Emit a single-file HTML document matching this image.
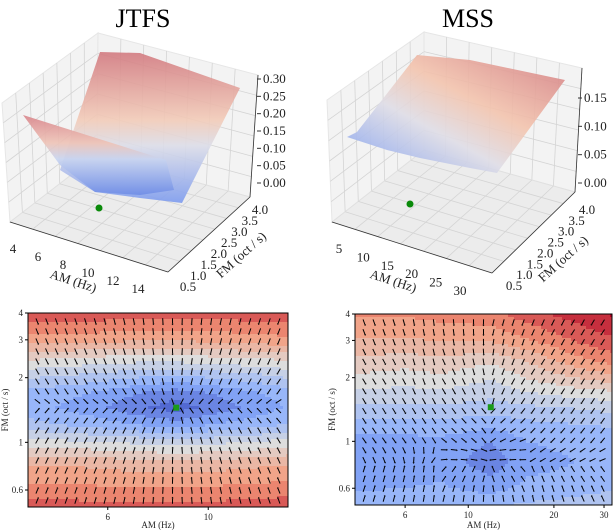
<!DOCTYPE html>
<html><head><meta charset="utf-8">
<style>
html,body{margin:0;padding:0;background:#fff;}
svg{display:block;font-family:"Liberation Serif",serif;}
.t{font-size:13px;fill:#222;}
.s{font-size:9px;fill:#222;font-family:"Liberation Serif",serif;}
</style></head>
<body>
<svg id="fig" width="614" height="532" viewBox="0 0 614 532" xmlns="http://www.w3.org/2000/svg">
<defs>
<linearGradient id="gBack1" x1="0" y1="0" x2="0" y2="1">
<stop offset="0" stop-color="#d27a80"/><stop offset="0.45" stop-color="#f2cbb8"/><stop offset="0.62" stop-color="#dcdde8"/><stop offset="1" stop-color="#7d9bee"/></linearGradient>
<linearGradient id="gFront1" x1="0" y1="0" x2="0" y2="1">
<stop offset="0" stop-color="#d8848a"/><stop offset="0.35" stop-color="#eec3b6"/><stop offset="0.55" stop-color="#c8d4f0"/><stop offset="1" stop-color="#6f8de6"/></linearGradient>
<linearGradient id="gMss" x1="1" y1="0" x2="0" y2="1">
<stop offset="0" stop-color="#d27a80"/><stop offset="0.4" stop-color="#f3c4ae"/><stop offset="0.62" stop-color="#dfdde6"/><stop offset="1" stop-color="#7c9cf0"/></linearGradient>
<clipPath id="c1"><rect x="28" y="313" width="260" height="194"/></clipPath>
<clipPath id="c2"><rect x="355" y="314" width="257" height="191"/></clipPath>
</defs>
<g id="top3d"></g>
<g id="bottom"></g>
</svg>
<script>
// ---- heatmap data (normalized distance, 0=min,1=max) ----
const fmRows = [4, 3, 2.4, 2, 1.7, 1.45, 1.2, 1, 0.8, 0.6, 0.5];
const jtfsAm = [4, 5.5, 7, 8.5, 10.5, 13, 15];
const jtfsVals = [
 [0.88,0.87,0.86,0.86,0.86,0.87,0.88],
 [0.72,0.71,0.69,0.69,0.7,0.72,0.73],
 [0.53,0.5,0.48,0.48,0.5,0.52,0.53],
 [0.4,0.36,0.32,0.3,0.33,0.36,0.4],
 [0.3,0.25,0.18,0.14,0.19,0.25,0.28],
 [0.28,0.21,0.12,0.07,0.14,0.21,0.26],
 [0.35,0.3,0.25,0.22,0.26,0.3,0.33],
 [0.5,0.47,0.45,0.43,0.45,0.47,0.5],
 [0.67,0.66,0.64,0.63,0.64,0.66,0.67],
 [0.78,0.77,0.76,0.76,0.77,0.78,0.79],
 [0.86,0.85,0.84,0.84,0.85,0.86,0.87]];
const mssAm = [4, 6, 8, 12, 16, 24, 32];
const mssVals = [
 [0.76,0.76,0.78,0.8,0.86,0.93,0.97],
 [0.67,0.67,0.68,0.69,0.74,0.83,0.88],
 [0.59,0.57,0.59,0.55,0.61,0.72,0.78],
 [0.52,0.5,0.52,0.47,0.54,0.61,0.65],
 [0.45,0.44,0.45,0.42,0.46,0.5,0.52],
 [0.38,0.38,0.38,0.36,0.38,0.4,0.42],
 [0.3,0.3,0.3,0.27,0.3,0.32,0.33],
 [0.22,0.22,0.23,0.18,0.25,0.27,0.28],
 [0.18,0.2,0.22,0.13,0.22,0.25,0.27],
 [0.24,0.25,0.26,0.22,0.27,0.29,0.31],
 [0.29,0.3,0.31,0.31,0.33,0.35,0.38]];
const jtfsXTicks = [6, 10];
const mssXTicks = [6, 10, 20, 30];
const yTicks = [4, 3, 2, 1, 0.6];
const jtfsTarget = [8.5, 1.45];
const mssTarget = [12, 1.45];
// ---- 3D tick labels ----
const jtfsZTicks = ["0.30","0.25","0.20","0.15","0.10","0.05","0.00"];
const mssZTicks = ["0.15","0.10","0.05","0.00"];
const fmTicks3d = ["4.0","3.5","3.0","2.5","2.0","1.5","1.0","0.5"];
const jtfsAmTicks = ["4","6","8","10","12","14"];
const mssAmTicks = ["5","10","15","20","25","30"];

const NS="http://www.w3.org/2000/svg";
function mk(tag,attrs,parent){const e=document.createElementNS(NS,tag);for(const k in attrs)e.setAttribute(k,attrs[k]);parent.appendChild(e);return e;}
function cw(v){
  const s=[[0,59,76,192],[0.25,141,176,254],[0.5,221,221,221],[0.75,244,154,123],[1,180,4,38]];
  v=Math.max(0,Math.min(1,v));
  for(let i=0;i<4;i++){if(v<=s[i+1][0]){const t=(v-s[i][0])/(s[i+1][0]-s[i][0]);
    return `rgb(${Math.round(s[i][1]+t*(s[i+1][1]-s[i][1]))},${Math.round(s[i][2]+t*(s[i+1][2]-s[i][2]))},${Math.round(s[i][3]+t*(s[i+1][3]-s[i][3]))})`;}}
}
function interp(arr,vals,v){
  let i=0;while(i<arr.length-2&&v>arr[i+1])i++;
  const t=Math.max(0,Math.min(1,(v-arr[i])/(arr[i+1]-arr[i])));return [i,t];
}
function field(amArr,vals,am,fm){
  const la=amArr.map(Math.log2), lf=fmRows.map(f=>-Math.log2(f));
  const [i,ti]=interp(la,null,Math.log2(am));
  const [j,tj]=interp(lf,null,-Math.log2(fm));
  const a=vals[j][i],b=vals[j][i+1],c=vals[j+1][i],d=vals[j+1][i+1];
  return (a*(1-ti)+b*ti)*(1-tj)+(c*(1-ti)+d*ti)*tj;
}
function heat(cfg){
  const g=mk('g',{},document.getElementById('bottom'));
  const X=am=>cfg.x0+(Math.log2(am)-Math.log2(cfg.amMin))/(Math.log2(cfg.amMax)-Math.log2(cfg.amMin))*cfg.w;
  const Y=fm=>cfg.y0+(2-Math.log2(fm))/3*cfg.h;
  const Xi=px=>Math.pow(2,Math.log2(cfg.amMin)+(px-cfg.x0)/cfg.w*(Math.log2(cfg.amMax)-Math.log2(cfg.amMin)));
  const Yi=py=>Math.pow(2,2-(py-cfg.y0)/cfg.h*3);
  const cells=mk('g',{'clip-path':cfg.clip},g);
  
  
  const st=3;
  for(let py=cfg.y0;py<cfg.y0+cfg.h;py+=st){
    for(let px=cfg.x0;px<cfg.x0+cfg.w;px+=st){
      let v=field(cfg.am,cfg.vals,Xi(px+st/2),Yi(py+st/2));
      v=Math.round(v*14)/14;
      mk('rect',{x:px,y:py,width:st+0.5,height:st+0.5,fill:cw(v)},cells);
    }
  }
  const q=mk('g',{stroke:'#000','stroke-width':1,fill:'#000'},g);
  
  
  const tx0=X(cfg.target[0]), ty0=Y(cfg.target[1]);
  for(let r=0;r<cfg.rows;r++){
    const py=cfg.y0+8+r*(cfg.h-14)/(cfg.rows-1);
    for(let c=0;c<cfg.cols;c++){
      const px=cfg.x0+9+c*(cfg.w-18)/(cfg.cols-1);
      const e=2;
      let gx=(field(cfg.am,cfg.vals,Xi(px+e),Yi(py))-field(cfg.am,cfg.vals,Xi(px-e),Yi(py)))/(2*e);
      let gy=(field(cfg.am,cfg.vals,Xi(px),Yi(py+e))-field(cfg.am,cfg.vals,Xi(px),Yi(py-e)))/(2*e);
      let m=Math.hypot(gx,gy)||1; let ux=-gx/m, uy=-gy/m;
      // blend toward target direction (arrows converge on target)
      const dx=tx0-px, dy=ty0-py, dm=Math.hypot(dx,dy)||1;
      ux=ux+0.6*dx/dm; uy=uy+0.6*dy/dm; m=Math.hypot(ux,uy)||1; ux/=m; uy/=m;
      const L=2.8;
      mk('line',{x1:px-ux*L,y1:py-uy*L,x2:px+ux*L,y2:py+uy*L},q);
      const hx=px+ux*L, hy=py+uy*L;
      mk('polygon',{points:`${hx+ux*1.4},${hy+uy*1.4} ${hx-uy*1.1},${hy+ux*1.1} ${hx+uy*1.1},${hy-ux*1.1}`,stroke:'none'},q);
    }
  }
  const d=mk('rect',{x:tx0-3,y:ty0-3,width:6,height:6,fill:'#1a9a1a'},g);
  
  
  mk('rect',{x:cfg.x0,y:cfg.y0,width:cfg.w,height:cfg.h,fill:'none',stroke:'#000','stroke-width':1},g);
  cfg.xt.forEach(t=>{mk('line',{x1:X(t),x2:X(t),y1:cfg.y0+cfg.h,y2:cfg.y0+cfg.h+3,stroke:'#000'},g);
    const tx=mk('text',{x:X(t),y:cfg.y0+cfg.h+13,'text-anchor':'middle',class:'s'},g);tx.textContent=t;});
  yTicks.forEach(t=>{mk('line',{x1:cfg.x0-3,x2:cfg.x0,y1:Y(t),y2:Y(t),stroke:'#000'},g);
    const tx=mk('text',{x:cfg.x0-5,y:Y(t)+3,'text-anchor':'end',class:'s'},g);tx.textContent=t;});
  const xl=mk('text',{x:cfg.x0+cfg.w/2,y:528,'text-anchor':'middle',class:'s'},g);xl.textContent='AM (Hz)';
  
  const yl=mk('text',{x:0,y:0,'text-anchor':'middle',class:'s',transform:`translate(${cfg.x0-20},${cfg.y0+cfg.h/2}) rotate(-90)`},g);yl.textContent='FM (oct / s)';
  
}
heat({name:'jtfs-quiver-plot',x0:28,y0:313,w:260,h:194,amMin:4,amMax:15,am:jtfsAm,vals:jtfsVals,xt:jtfsXTicks,target:jtfsTarget,clip:'url(#c1)',rows:19,cols:26});
heat({name:'mss-quiver-plot',x0:355,y0:314,w:257,h:191,amMin:4,amMax:32,am:mssAm,vals:mssVals,xt:mssXTicks,target:mssTarget,clip:'url(#c2)',rows:19,cols:25});

// ---- 3D panels ----
function lerp(a,b,t){return [a[0]+(b[0]-a[0])*t,a[1]+(b[1]-a[1])*t];}
function quadGrid(g,q,nu,nv){
  for(let i=1;i<nu;i++){const a=lerp(q[0],q[1],i/nu),b=lerp(q[3],q[2],i/nu);mk('line',{x1:a[0],y1:a[1],x2:b[0],y2:b[1],stroke:'#d4d4d4','stroke-width':0.8},g);}
  for(let i=1;i<nv;i++){const a=lerp(q[0],q[3],i/nv),b=lerp(q[1],q[2],i/nv);mk('line',{x1:a[0],y1:a[1],x2:b[0],y2:b[1],stroke:'#d4d4d4','stroke-width':0.8},g);}
}
function pts(a){return a.map(p=>p.join(',')).join(' ');}
function panel(c){
  const g=mk('g',{},document.getElementById('top3d'));
  const t=mk('text',{x:c.tx,y:27,'text-anchor':'middle','font-size':'26px',fill:'#000'},g);t.textContent=c.title;
  
  const [L,BT,RT,LB,BB,RB,FB]=c.box;
  const left=[L,BT,BB,LB], right=[BT,RT,RB,BB], floor=[LB,BB,RB,FB];
  [left,right].forEach(q=>{mk('polygon',{points:pts(q),fill:'#f3f3f3',stroke:'#e6e6e6'},g);quadGrid(g,q,c.nGrid,6);});
  mk('polygon',{points:pts(floor),fill:'#ececec',stroke:'#e0e0e0'},g);quadGrid(g,floor,7,7);
  c.surf.forEach(s=>mk('polygon',{points:pts(s.p),fill:s.f,opacity:0.9},g));
  const dot=mk('circle',{cx:c.dot[0],cy:c.dot[1],r:3.5,fill:'#0a8a0a'},g);
  
  mk('line',{x1:LB[0],y1:LB[1],x2:FB[0],y2:FB[1],stroke:'#333','stroke-width':0.8},g);
  mk('line',{x1:FB[0],y1:FB[1],x2:RB[0],y2:RB[1],stroke:'#333','stroke-width':0.8},g);
  mk('line',{x1:RT[0],y1:RT[1],x2:RB[0],y2:RB[1],stroke:'#333','stroke-width':0.8},g);
  c.z.forEach((s,i)=>{const y=c.zy[0]+i*(c.zy[1]-c.zy[0])/(c.z.length-1);
    mk('line',{x1:c.zx-6,x2:c.zx-2,y1:y,y2:y,stroke:'#333'},g);
    const e=mk('text',{x:c.zx,y:y+4,class:'t'},g);e.textContent=s;});
  c.fm.forEach((s,i)=>{const p=lerp(c.fmA,c.fmB,i/(c.fm.length-1));const e=mk('text',{x:p[0],y:p[1]+4,'text-anchor':'middle',class:'t'},g);e.textContent=s;});
  c.amt.forEach((s,i)=>{const p=lerp(c.amA,c.amB,i/(c.amt.length-1));const e=mk('text',{x:p[0],y:p[1]+4,'text-anchor':'middle',class:'t'},g);e.textContent=s;});
  const fl=mk('text',{x:0,y:0,'text-anchor':'middle',class:'t',transform:`translate(${c.fmL[0]},${c.fmL[1]}) rotate(-42)`},g);fl.textContent='FM (oct / s)';
  
  const al=mk('text',{x:0,y:0,'text-anchor':'middle',class:'t',transform:`translate(${c.amL[0]},${c.amL[1]}) rotate(18)`},g);al.textContent='AM (Hz)';
  
}
panel({name:'jtfs-surface-plot',title:'JTFS',tx:143,nGrid:7,
  box:[[2,103],[98,33],[258,75],[10,222],[97,155],[250,197],[168,272]],
  surf:[{p:[[100,52],[140,53],[240,88],[182,203],[140,198],[95,192],[60,170]],f:'url(#gBack1)'},
        {p:[[23,115],[166,160],[174,190],[140,195],[95,192],[60,165]],f:'url(#gFront1)'}],
  dot:[99,208],z:jtfsZTicks,zy:[79,183],zx:263,fm:fmTicks3d,fmA:[260,210],fmB:[188,287],
  amt:jtfsAmTicks,amA:[13,249],amB:[138,289],fmL:[244,258],amL:[72,285]});
panel({name:'mss-surface-plot',title:'MSS',tx:468,nGrid:7,
  box:[[327,100],[424,32],[582,68],[332,222],[424,150],[575,192],[492,273]],
  surf:[{p:[[417,55],[470,60],[565,80],[497,173],[470,168],[420,158],[387,150],[347,137],[357,132]],f:'url(#gMss)'}],
  dot:[410,204],z:mssZTicks,zy:[98,183],zx:584,fm:fmTicks3d,fmA:[587,210],fmB:[514,286],
  amt:mssAmTicks,amA:[339,249],amB:[460,291],fmL:[566,262],amL:[392,285]});
</script>
</body></html>
